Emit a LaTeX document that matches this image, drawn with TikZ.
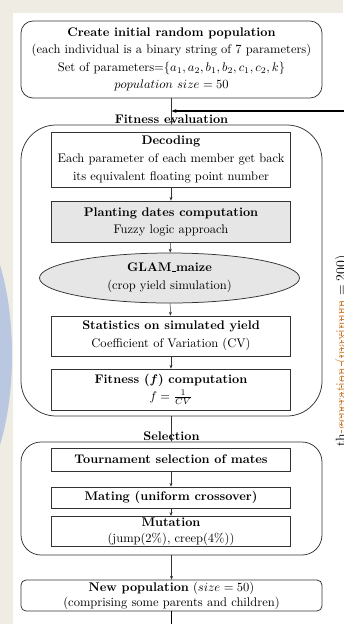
\documentclass[tikz,border=0pt]{standalone}
\usepackage{amsmath}
\usetikzlibrary{arrows.meta,shapes.geometric}
\definecolor{beige}{HTML}{EEECE3}
\definecolor{sideblue}{HTML}{B9C7E0}
\definecolor{boxgray}{HTML}{E6E6E6}
\definecolor{edge}{HTML}{333333}
\definecolor{trackorange}{HTML}{C8782A}
\newcommand{\smallus}{\leavevmode\kern.06em\vbox{\hrule width.3em height .5pt}}
\tikzset{
  stepbox/.style={draw=edge, line width=0.6pt, rectangle, minimum width=191.2pt, inner sep=1pt, align=center, font=\fontsize{10}{14.2}\selectfont},
  graybox/.style={stepbox, fill=boxgray},
  container/.style={draw=edge, line width=0.6pt, rectangle, minimum width=240.8pt, inner sep=0pt},
  roundbox/.style={draw=edge, line width=0.6pt, rectangle, minimum width=240.8pt, inner sep=1pt, align=center},
  grouplabel/.style={font=\bfseries\fontsize{10}{12}\selectfont, inner sep=0pt},
  link/.style={draw=edge, line width=0.4pt, -{Stealth[length=3pt,width=2.4pt]}},
  loopline/.style={draw=black, line width=1.1pt},
}
\begin{document}
\begin{tikzpicture}[x=0.8pt,y=-0.8pt]
\useasboundingbox (0,0) rectangle (343,624);
% background
\fill[white] (0,0) rectangle (343,624);
\fill[beige] (0,0) rectangle (13,624);
\fill[beige] (0,0) rectangle (343,13);
\begin{scope}
\clip (0,0) rectangle (13,624);
\fill[sideblue] (-48,355) ellipse [x radius=48pt, y radius=120pt];
\end{scope}

% top box
\node[roundbox, rounded corners=9.6pt, minimum height=61.6pt, font=\fontsize{10}{14}\selectfont] (init) at (171.5,59.5)
 {\textbf{Create initial random population}\\
  (each individual is a binary string of 7 parameters)\\
  Set of parameters=$\{a_1,a_2,b_1,b_2,c_1,c_2,k\}$\\
  $population\ size=50$};

% fitness container
\node[container, rounded corners=28pt, minimum height=232.8pt] (fitcont) at (171.5,270.5) {};
\node[grouplabel] (fitlabel) at (171.5,119) {Fitness evaluation};

\node[stepbox, minimum height=44pt, font=\fontsize{10}{14.4}\selectfont] (dec) at (171,159.5)
 {\textbf{Decoding}\\Each parameter of each member get back\\its equivalent floating point number};
\node[graybox, minimum height=32.8pt, font=\fontsize{10}{13.6}\selectfont] (plant) at (171,221.5)
 {\textbf{Planting dates computation}\\Fuzzy logic approach};
\node[draw=edge, line width=0.6pt, ellipse, fill=boxgray, minimum width=208pt, minimum height=40pt, inner sep=0pt, align=center, font=\fontsize{10}{14.4}\selectfont] (glam) at (169.5,278)
 {\textbf{GLAM\smallus maize}\\(crop yield simulation)};
\node[stepbox, minimum height=32pt, font=\fontsize{10}{14.4}\selectfont] (stats) at (171,336)
 {\textbf{Statistics on simulated yield}\\Coefficient of Variation (CV)};
\node[stepbox, minimum height=32.8pt, font=\fontsize{10}{13.6}\selectfont] (fit) at (171,389.5)
 {\textbf{Fitness ($\boldsymbol{f}$) computation}\\$f=\frac{1}{CV}$};

% selection container
\node[container, rounded corners=16pt, minimum height=90.4pt] (selcont) at (171.5,498.5) {};
\node[grouplabel] (sellabel) at (171.5,436) {Selection};

\node[stepbox, minimum height=18.4pt] (tour) at (171,459.5) {\textbf{Tournament selection of mates}};
\node[stepbox, minimum height=16.8pt] (mate) at (171,497.5) {\textbf{Mating (uniform crossover)}};
\node[stepbox, minimum height=23.2pt, font=\fontsize{10}{11.4}\selectfont] (mut) at (171,531.5)
 {\raisebox{1.5pt}{\textbf{Mutation}}\\(jump(2\%), creep(4\%))};

% new population
\node[roundbox, rounded corners=4pt, minimum height=24.8pt, font=\fontsize{10}{12}\selectfont] (newpop) at (171.5,595.5)
 {\textbf{New population} ($size=50$)\\(comprising some parents and children)};

% connectors
\draw[link] (init.south) -- (fitcont.north);
\draw[link] (dec) -- (plant);
\draw[link] (plant) -- (glam);
\draw[link] (glam) -- (stats);
\draw[link] (stats) -- (fit);
\draw[link] (fitcont.south) -- (selcont.north);
\draw[link] (tour) -- (mate);
\draw[link] (mate) -- (mut);
\draw[link] (selcont.south) -- (newpop.north);

% loop back
\coordinate (loopout) at (171.5,640);
\coordinate (loopin) at (360,111);
\draw[loopline] (newpop.south) -- (loopout);
\draw[loopline, -{Stealth[length=4pt,width=3pt]}] (loopin) -- (loopin -| init.south);

% clipped side label of the loop
\node[rotate=90, inner sep=0pt, font=\fontsize{11}{13}\selectfont] (looplabel) at (342,351)
 {th \textcolor{trackorange}{generation (maximum} $=200$)};
\draw[trackorange, dashed, line width=0.5pt] (341.5,302) -- (341.5,434);
\end{tikzpicture}
\end{document}
